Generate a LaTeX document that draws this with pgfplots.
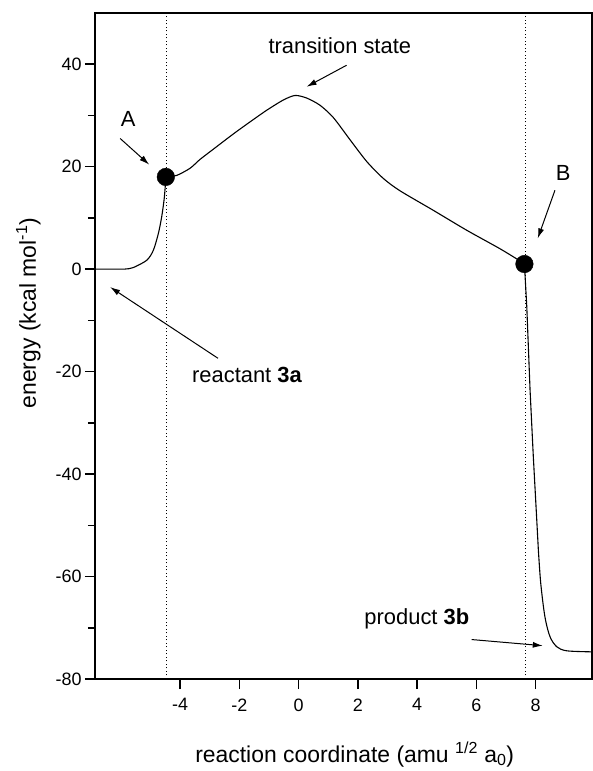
\documentclass[border=0pt]{standalone}
\usepackage{fontspec}
\setmainfont{Liberation Sans}
\usepackage{pgfplots}
\pgfplotsset{compat=1.18}
\usetikzlibrary{arrows.meta}
\begin{document}
\begin{tikzpicture}
\useasboundingbox (-95bp,-92bp) rectangle (498bp,679bp);
\begin{axis}[
  scale only axis, width=497bp, height=666bp,
  at={(0,0)}, anchor=south west,
  xmin=-6.87, xmax=9.9, ymin=-80, ymax=50,
  axis line style={line width=1.2bp},
  xtick={-4,-2,...,8}, ytick={-80,-60,...,40},
  minor ytick={-70,-50,...,30},
  tick align=outside,
  tick pos=left,
  major tick length=10bp, minor tick length=7bp,
  every tick/.style={black, line width=1.6bp},
  tick label style={font=\fontsize{18}{20}\selectfont},
  xticklabel style={yshift=-6bp},
  /pgf/number format/assume math mode=true,
  clip=false,
]
\draw[line width=2bp] (rel axis cs:0,0) -- (rel axis cs:0,1);
\draw[line width=2bp] (rel axis cs:0,0) -- (rel axis cs:1,0);
\addplot[black, line width=1.1bp, smooth, tension=0.45] coordinates {
(-6.87,0) (-6.2,0) (-5.85,0.02) (-5.58,0.3) (-5.12,1.75) (-4.90,3.7) (-4.73,7.0)
(-4.62,10.2) (-4.54,13.5) (-4.50,16.1) (-4.48,17.9)
(-4.11,18.3) (-3.66,19.7) (-3.33,21.4) (-2.88,23.4) (-2.20,26.4) (-1.60,28.9) (-1.08,31.0) (-0.52,33.0)
(-0.12,33.9) (0.27,33.4) (0.72,32.0) (1.17,29.6) (1.73,25.3) (2.30,21.0)
(2.86,17.7) (3.42,15.3) (4.54,11.5) (5.67,7.6) (6.79,4.0) (7.47,1.6) (7.62,1.0)
};
\addplot[black, line width=1.1bp] coordinates {
(7.62,1.0) (7.70,-7.4) (7.81,-23.6) (7.92,-36.6) (8.03,-48.3) (8.09,-54.8)
};
\addplot[black, line width=1.1bp, smooth, tension=0.5] coordinates {
(8.09,-54.8) (8.17,-61.3) (8.31,-67.8) (8.48,-71.7) (8.71,-73.7) (9.05,-74.5) (9.9,-74.7)
};
\addplot[black, line width=1.5bp, dash pattern=on 1.4bp off 2.1bp] coordinates {(-4.45,-80) (-4.45,50)};
\addplot[black, line width=1.5bp, dash pattern=on 1.4bp off 2.1bp] coordinates {(7.66,-80) (7.66,50)};
\addplot[only marks, mark=*, mark size=8.8bp, black] coordinates {(-4.48,18) (7.62,1)};

\node[font=\fontsize{22}{24}\selectfont] at (axis cs:1.39,43.6) {transition state};
\draw[line width=1bp, -{Latex[length=10bp,width=6bp]}] (axis cs:1.62,39.8) -- (axis cs:0.27,35.6);
\node[font=\fontsize{22}{24}\selectfont] at (axis cs:-5.75,29.3) {A};
\draw[line width=1bp, -{Latex[length=10bp,width=6bp]}] (axis cs:-6.02,25.5) -- (axis cs:-5.04,20.4);
\node[font=\fontsize{22}{24}\selectfont] at (axis cs:8.93,18.8) {B};
\draw[line width=1bp, -{Latex[length=10bp,width=6bp]}] (axis cs:8.65,15.4) -- (axis cs:8.07,6.0);
\node[font=\fontsize{22}{24}\selectfont] at (axis cs:3.99,-68.3) {product \textbf{3b}};
\draw[line width=1bp, -{Latex[length=10bp,width=6bp]}] (axis cs:5.84,-72.3) -- (axis cs:8.24,-73.5);
\node[font=\fontsize{22}{24}\selectfont] at (axis cs:-1.74,-20.7) {reactant \textbf{3a}};
\draw[line width=1bp, -{Latex[length=10bp,width=6bp]}] (axis cs:-2.72,-17.4) -- (axis cs:-6.36,-3.5);
\end{axis}
\node[font=\fontsize{23}{25}\selectfont, anchor=base] at (259.7bp,-83bp) {reaction coordinate (amu \textsuperscript{1/2} a\textsubscript{0})};
\node[font=\fontsize{23}{25}\selectfont, anchor=base, rotate=90] at (-59bp,366bp) {energy (kcal mol\textsuperscript{-1})};
\end{tikzpicture}
\end{document}
